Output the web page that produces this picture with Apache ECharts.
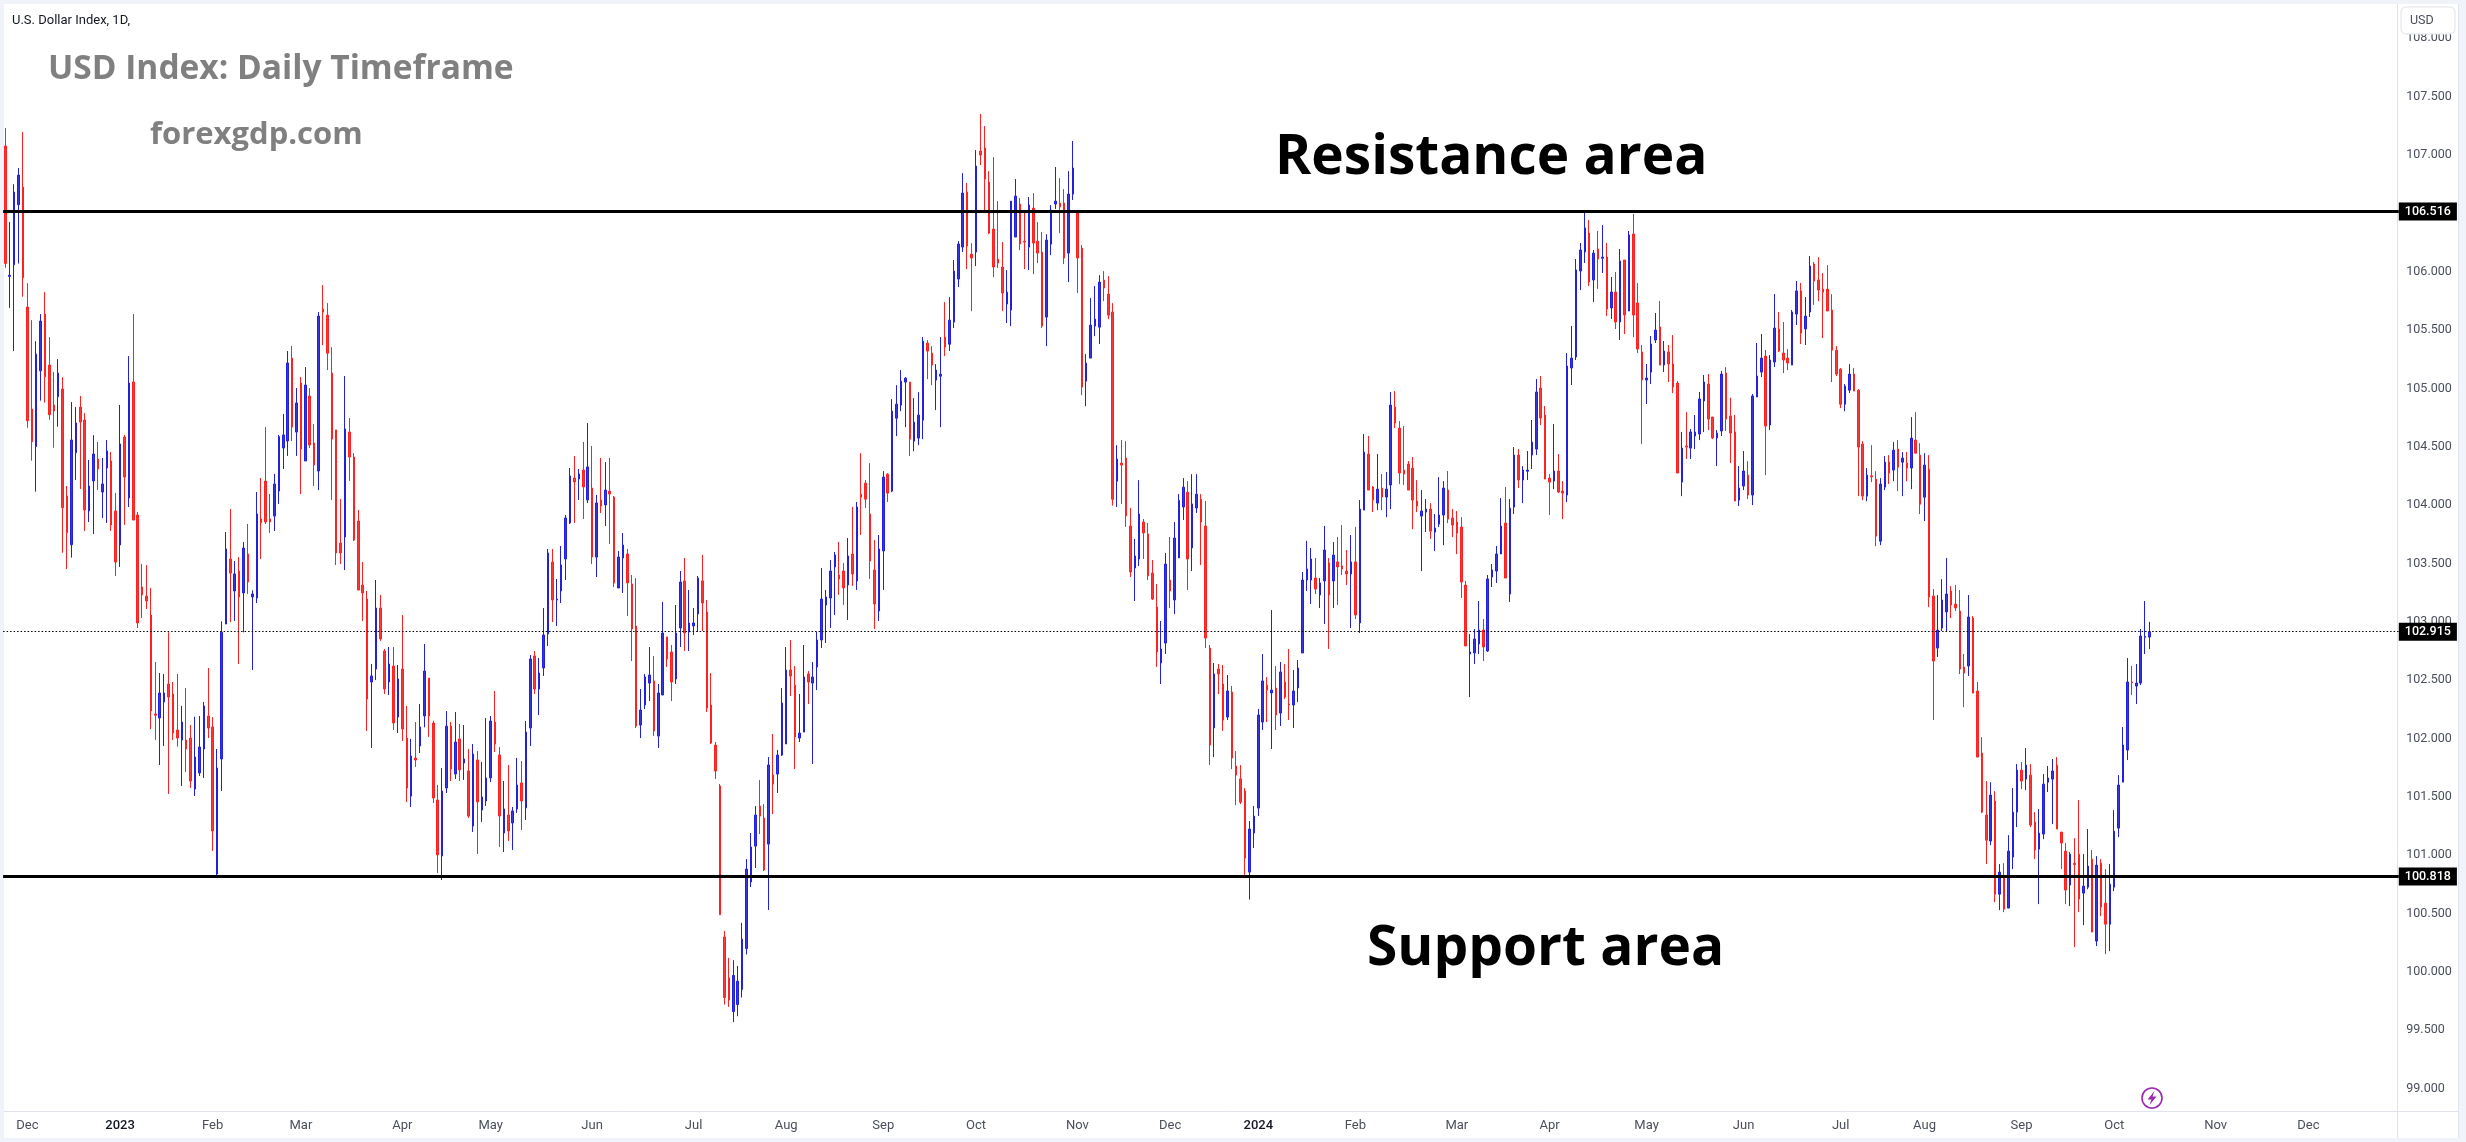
<!DOCTYPE html>
<html><head><meta charset="utf-8"><title>USD Index Daily</title>
<style>html,body{margin:0;padding:0;background:#f0f3fa}#c{width:2466px;height:1142px}</style>
<script src="https://cdn.jsdelivr.net/npm/echarts@6/dist/echarts.min.js"></script></head>
<body><div id="c"></div><script>
const chartTitle='USD Index: Daily Timeframe';
const siteName='forexgdp.com';
const symbolLine='U.S. Dollar Index, 1D,';
const currency='USD';
const resistanceLabel='Resistance area';
const supportLabel='Support area';
const resistanceLevel=106.516, supportLevel=100.818, lastPrice=102.915;
const priceTicks=[99,99.5,100,100.5,101,101.5,102,102.5,103,103.5,104,104.5,105,105.5,106,106.5,107,107.5,108];
const monthNames=['','Dec','2023','Feb','Mar','Apr','May','Jun','Jul','Aug','Sep','Oct','Nov','Dec','2024','Feb','Mar','Apr','May','Jun','Jul','Aug','Sep','Oct','Nov','Dec'];
const barsInMonth=[5,21,21,20,23,20,23,23,21,22,21,23,21,20,22,23,21,22,22,22,19,22,21,23,21,21];
// B = closed up, R = closed down
const direction=('RBBBRRRBBR'+'RRBRRBBRRB'+'BRBBRRBRBR'+'RRRRRBBRRR'+'BRRBBBRRBB'+'BRBRBRBBRR'+'RBBBBRBRBR'+'RBRRRRRBRR'+'RRRBBRRBRB'+'RRBRBBRRRB'
+'BRBRBRBRBB'+'BRRBRBBRBB'+'RBBBRBBBBR'+'BRBRBRBRRB'+'BRRRBBBRBB'+'RRBBRBBBRR'+'RRRRRBBBBB'+'BRRBRBBBRR'+'BBRBBBBBBR'+'RBRBRRRRBB'
+'RBBBBRBBBR'+'RBBRBBBBRR'+'BRRRRRRBBB'+'RRBRRRBBBR'+'RBBRRBBBBR'+'RRBRRRBBRR'+'RRBBRBBBRB'+'BRRRBRRBRR'+'RRBBBBRBRB'+'RRBBBBBRBB'
+'RBRRRBRBBR'+'RBRBBRRRRR'+'RBBRBBBRRR'+'RRBBBRBBBB'+'RBBRBBBBRR'+'RBRRBBBBBR'+'BRBRBRBRBR'+'RRBBBRBRRR'+'BRBBBBRRBB'+'RRRBBRBBBR'
+'BBRRRBBRBB'+'RRRRRRRBBR'+'RRBRRBBRBR'+'BRBRRBRRBB'+'BRRRRBRRRR'+'BRBRBBBRBR'+'RBBBBRRRBR'+'RBBRBRRBBB'+'BBRBBBB').split('');
const bodyHigh=[
107.077,105.97,106.682,106.828,106.725,105.697,104.823,105.294,105.577,105.637,
105.2,104.858,105.131,104.995,104.078,104.558,104.704,104.84,104.729,104.164,
104.438,104.395,104.181,104.464,104.378,103.95,104.524,104.584,105.046,105.055,
103.915,103.298,103.221,103.058,102.21,102.39,102.39,102.467,102.381,102.073,
102.141,101.987,102.004,101.841,101.927,102.279,102.193,102.099,101.747,102.91,
103.624,103.538,103.41,103.435,103.632,103.581,103.238,103.924,103.881,104.206,
103.881,104.181,104.586,104.601,105.218,105.26,104.875,105.046,105.029,104.935,
104.532,105.62,105.68,105.628,105.131,104.644,103.675,104.652,104.626,104.412,
103.864,103.315,103.195,102.536,103.118,103.118,102.75,102.638,102.621,102.51,
102.595,102.004,101.85,101.833,102.099,102.578,102.518,102.133,101.473,101.55,
102.106,102.106,101.97,101.996,101.824,101.722,101.867,101.816,101.499,101.662,
102.15,102.141,101.859,101.396,101.345,101.379,101.602,101.619,102.055,102.681,
102.707,102.561,102.887,103.59,103.512,103.195,103.487,103.89,104.25,104.232,
104.267,104.301,104.327,104.146,104.018,104.044,104.129,104.12,104.069,103.555,
103.658,103.581,103.324,102.964,102.244,102.527,102.544,102.493,102.39,102.904,
102.87,102.741,102.904,103.341,103.35,102.99,102.99,103.375,103.35,103.084,
102.287,101.944,101.593,100.3,99.95,99.97,99.92,100.28,100.881,101.07,
101.344,101.421,101.318,101.773,101.687,101.858,102.304,102.587,102.587,102.458,
102.047,102.527,102.553,102.527,102.844,103.195,103.213,103.435,103.573,103.401,
103.435,103.564,103.581,103.984,104.094,104.188,103.924,103.444,103.624,104.24,
104.265,104.805,104.865,105.062,105.088,105.054,104.711,104.771,105.405,105.388,
105.302,105.157,105.122,105.44,105.585,106.005,106.237,106.674,106.682,106.151,
106.905,107.034,107.06,106.768,106.365,106.108,106.04,105.825,106.605,106.648,
106.58,106.262,106.571,106.545,106.262,106.168,106.271,106.528,106.605,106.588,
106.588,106.665,106.888,106.511,106.202,105.217,105.542,105.594,105.911,105.928,
105.808,105.654,104.394,104.36,104.403,103.821,103.564,103.924,103.855,103.753,
103.418,103.127,102.767,103.495,103.358,103.718,104.04,104.154,104.111,104.01,
104.094,104.05,103.821,102.775,102.553,102.595,102.467,102.407,102.398,101.764,
101.653,101.55,101.224,101.335,102.201,102.493,102.458,102.415,102.432,102.57,
102.484,102.295,102.407,102.604,103.358,103.453,103.538,103.375,103.333,103.615,
103.504,103.572,103.513,103.478,103.435,103.513,103.513,103.966,104.454,104.437,
104.155,104.137,104.146,104.137,104.857,104.84,104.66,104.3,104.352,104.317,
104.035,103.949,103.966,103.966,103.803,103.915,104.146,104.129,103.889,103.855,
103.812,103.315,102.741,102.853,102.93,102.93,103.367,103.444,103.581,103.821,
103.846,103.974,104.429,104.429,104.3,104.3,104.54,104.969,105.003,104.772,
104.232,104.292,104.292,104.12,105.192,105.26,106.015,106.186,106.375,106.332,
106.16,106.195,106.125,106.126,105.826,105.826,106.092,106.1,106.315,106.323,
105.732,105.312,105.089,105.38,105.5,105.526,105.32,105.312,105.209,105.046,
104.489,104.506,104.626,104.626,104.909,105.055,105.037,104.755,104.617,105.123,
105.132,104.763,104.626,104.146,104.292,104.257,104.935,105.106,105.26,105.277,
105.243,105.517,105.509,105.303,105.26,105.655,105.835,105.835,105.62,106.049,
106.066,105.929,105.851,105.851,105.671,105.328,105.165,105.02,105.123,105.123,
104.985,104.523,104.257,104.251,104.223,104.18,104.368,104.368,104.471,104.48,
104.403,104.36,104.574,104.557,104.428,104.343,104.308,103.221,102.929,103.186,
103.238,103.264,103.152,103.092,102.612,103.041,103.032,102.406,101.875,101.344,
101.515,101.464,100.855,100.821,101.035,101.369,101.729,101.729,101.772,101.686,
101.284,101.189,101.609,101.661,101.721,101.772,101.198,101.035,101.009,100.93,
101.009,100.735,100.906,100.966,100.915,100.932,100.589,100.752,101.206,101.601,
101.944,102.484,102.484,102.475,102.878,102.875,102.915];
const bodyLow=[
106.071,105.96,106.06,106.574,105.948,104.723,104.543,104.501,105.151,105.099,
104.775,104.806,104.929,103.978,103.764,103.661,104.449,104.712,103.958,103.95,
104.207,104.31,104.112,104.318,103.83,103.512,103.658,104.241,104.061,103.872,
102.99,103.23,103.178,102.236,102.2,102.176,102.313,102.355,102.047,102.004,
101.987,101.91,101.636,101.567,101.705,101.91,102.09,101.207,100.839,101.824,
102.981,103.418,103.264,103.213,103.247,103.341,103.213,103.204,103.847,103.855,
103.855,103.906,104.121,104.489,104.549,104.669,104.626,104.481,104.378,104.515,
104.344,104.292,105.654,105.302,104.566,103.59,103.59,103.727,104.412,103.701,
103.272,103.247,102.338,102.484,102.595,102.853,102.424,102.484,102.133,102.184,
102.081,101.576,101.507,101.816,101.936,102.193,102.193,101.49,101.002,100.993,
101.576,101.739,101.696,101.73,101.79,101.336,101.25,101.456,101.387,101.465,
101.662,101.953,101.336,101.19,101.207,101.276,101.396,101.465,101.405,102.09,
102.424,102.424,102.604,102.896,103.187,103.187,103.264,103.538,103.847,104.198,
104.224,104.155,104.044,103.555,103.555,103.992,104.001,104.095,103.332,103.29,
103.547,103.333,102.938,102.107,102.115,102.287,102.475,102.064,102.021,102.373,
102.681,102.484,102.51,102.947,102.904,102.913,102.964,103.067,103.161,102.261,
101.961,101.721,100.49,99.78,99.76,99.66,99.72,99.85,100.2,100.77,
101.078,101.335,100.873,101.095,101.61,101.695,101.858,101.953,102.535,102.013,
102.004,102.055,102.484,102.475,102.613,102.844,103.144,103.204,103.47,103.367,
103.29,103.315,103.41,103.35,104.068,104.051,103.521,103.153,103.093,103.607,
104.103,104.12,104.745,104.857,105.054,104.565,104.548,104.574,104.728,105.32,
105.2,105.071,105.105,105.354,105.379,105.568,105.937,106.211,106.22,106.117,
106.168,107.0,106.794,106.331,106.04,106.074,105.817,105.723,105.671,106.297,
106.237,106.254,106.211,106.245,106.16,105.534,105.611,106.237,106.58,106.554,
106.117,106.16,106.665,106.117,105.011,105.062,105.26,105.534,105.525,105.86,
105.628,104.05,104.205,104.343,103.907,103.427,103.461,103.538,103.761,103.393,
103.195,102.741,102.647,102.818,103.264,103.187,103.547,103.984,103.538,103.633,
103.975,103.855,102.861,101.944,102.09,102.553,102.158,102.184,101.833,101.687,
101.455,100.975,100.855,101.19,101.404,102.141,102.415,102.39,102.201,102.218,
102.355,102.287,102.287,102.433,102.733,103.358,103.358,103.281,103.23,103.35,
103.23,103.35,103.47,103.453,103.41,103.41,103.058,102.99,103.957,104.129,
104.043,104.017,104.069,104.069,104.172,104.703,104.275,104.266,104.129,104.043,
103.992,103.906,103.94,103.777,103.769,103.837,103.915,103.88,103.829,103.76,
103.341,102.793,102.724,102.733,102.81,102.784,102.75,103.384,103.435,103.581,
103.375,103.238,103.983,104.215,104.215,104.29,104.429,104.48,104.746,104.223,
104.197,104.206,104.112,104.103,104.086,105.175,105.269,106.006,106.169,105.912,
105.929,106.109,106.115,105.68,105.689,105.569,105.569,105.629,105.663,105.629,
105.337,105.072,105.072,105.14,105.415,105.2,105.2,105.209,105.012,104.275,
104.197,104.497,104.489,104.592,104.609,104.892,104.737,104.575,104.575,104.635,
104.737,104.617,104.035,104.043,104.163,104.086,104.086,104.926,105.14,104.677,
104.686,105.226,105.32,105.243,105.217,105.2,105.637,105.475,105.509,105.655,
105.92,105.843,105.825,105.663,105.328,105.123,104.865,104.865,104.985,104.977,
104.497,104.077,104.077,104.243,103.734,103.691,104.154,104.274,104.3,104.325,
104.368,104.317,104.317,104.445,104.008,104.068,103.212,102.664,102.775,102.946,
103.084,103.144,103.118,102.595,102.561,102.621,102.389,101.841,101.369,101.129,
101.121,100.666,100.666,100.538,100.547,100.984,101.369,101.635,101.652,101.258,
101.044,101.052,101.181,101.626,101.652,101.224,101.104,100.701,100.744,100.92,
100.624,100.675,100.726,100.341,100.264,100.555,100.409,100.409,100.726,101.232,
101.626,101.901,102.478,102.449,102.475,102.867,102.869];
const wickHigh=[
107.231,106.425,106.75,106.888,107.197,105.902,105.585,105.405,105.637,105.825,
105.44,105.14,105.251,105.097,104.164,104.883,104.84,104.935,104.789,104.387,
104.6,104.541,104.404,104.558,104.455,104.104,104.858,104.601,105.277,105.637,
103.941,103.495,103.487,103.29,102.655,102.561,102.553,102.91,102.484,102.553,
102.279,102.433,102.116,102.187,102.193,102.313,102.604,102.184,101.91,103.004,
103.77,103.967,103.521,103.555,103.684,103.838,103.27,104.112,104.232,104.669,
104.095,104.267,104.601,104.781,105.32,105.363,105.003,105.098,105.183,105.003,
104.695,105.655,105.885,105.731,105.354,104.644,104.052,105.106,104.746,104.446,
103.958,103.512,103.264,102.638,103.358,103.23,102.767,102.784,102.784,102.63,
103.058,102.279,101.996,102.141,102.296,102.81,102.518,102.153,101.602,101.747,
102.235,102.141,102.227,102.124,102.116,101.91,101.953,101.893,101.799,102.176,
102.193,102.407,101.927,101.636,101.773,101.413,101.833,101.807,102.15,102.715,
102.75,102.69,103.118,103.624,103.624,103.367,103.65,103.915,104.318,104.421,
104.309,104.541,104.703,104.506,104.087,104.404,104.369,104.404,104.078,103.607,
103.761,103.624,103.401,103.375,102.424,102.553,102.784,102.707,102.467,103.17,
102.87,102.801,103.144,103.435,103.547,103.273,103.118,103.393,103.573,103.187,
102.561,101.97,101.61,100.35,100.12,100.1,100.05,100.42,100.967,101.19,
101.421,101.644,101.438,101.841,102.038,101.901,102.433,102.784,102.844,102.621,
102.381,102.801,102.578,102.655,102.913,103.461,103.273,103.53,103.598,103.684,
103.504,103.718,103.984,104.027,104.445,104.214,104.36,103.701,103.744,104.291,
104.273,104.908,105.028,105.157,105.097,105.054,104.917,104.968,105.44,105.414,
105.362,105.208,105.44,105.739,105.782,106.1,106.262,106.845,106.76,106.245,
107.042,107.351,107.248,106.862,106.982,106.605,106.254,106.014,106.605,106.794,
106.631,106.52,106.64,106.674,106.425,106.34,106.322,106.571,106.897,106.802,
106.708,106.862,107.12,106.511,106.228,105.294,105.774,105.877,105.971,106.005,
105.962,105.731,104.514,104.557,104.548,103.975,103.71,104.214,103.881,103.847,
103.53,103.324,103.007,103.59,103.727,103.855,104.094,104.231,104.205,104.265,
104.265,104.094,104.035,102.801,102.647,102.638,102.63,102.544,102.45,101.893,
101.773,101.575,101.293,101.421,102.253,102.724,102.527,103.101,102.621,102.655,
102.638,102.767,102.587,102.673,103.427,103.693,103.633,103.547,103.375,103.821,
103.547,103.684,103.727,103.83,103.615,103.744,103.813,104.043,104.609,104.592,
104.163,104.437,104.266,104.283,104.969,104.977,104.72,104.678,104.377,104.412,
104.214,104.129,104.052,104.017,103.923,104.24,104.206,104.292,103.966,103.949,
103.897,103.35,102.895,102.938,103.178,103.024,103.401,103.495,103.65,104.06,
104.155,104.052,104.497,104.48,104.334,104.463,104.729,105.08,105.106,104.849,
104.266,104.695,104.437,104.206,105.303,105.535,106.109,106.246,106.52,106.443,
106.186,106.349,106.4,106.246,105.955,105.997,106.195,106.1,106.349,106.495,
105.903,105.372,105.209,105.449,105.646,105.749,105.406,105.372,105.457,105.063,
104.626,104.797,104.652,104.772,104.969,105.115,105.123,104.755,104.643,105.149,
105.183,104.92,104.772,104.335,104.463,104.377,104.952,105.389,105.466,105.329,
105.286,105.809,105.655,105.569,105.337,105.672,105.92,105.903,105.783,106.135,
106.083,106.125,105.988,106.057,105.808,105.363,105.174,105.037,105.208,105.174,
104.994,104.548,104.317,104.514,104.291,104.231,104.42,104.428,104.54,104.557,
104.454,104.454,104.754,104.797,104.531,104.445,104.428,103.281,103.229,103.366,
103.546,103.306,103.315,103.272,102.724,103.229,103.049,102.484,102.012,101.635,
101.626,101.549,100.924,100.932,101.172,101.575,101.781,101.798,101.918,101.781,
101.369,101.395,101.695,101.764,101.824,101.841,101.198,101.104,101.026,101.146,
101.472,101.009,101.224,101.044,100.992,100.966,100.881,100.924,101.386,101.686,
102.098,102.689,102.621,102.638,102.938,103.178,103.0];
const wickLow=[
106.034,105.69,105.32,106.07,105.785,104.663,104.381,104.115,104.895,104.878,
104.732,104.492,104.672,103.592,103.452,103.55,104.215,104.138,103.778,103.855,
103.752,104.129,103.889,103.847,103.778,103.392,103.47,103.83,103.984,103.872,
102.947,103.033,103.11,102.081,101.987,101.773,101.936,101.525,101.987,101.93,
101.593,101.713,101.576,101.507,101.679,101.662,102.004,101.036,100.82,101.55,
102.981,102.998,103.007,102.638,102.91,103.238,102.587,103.161,103.538,103.838,
103.761,103.778,104.01,104.309,104.421,104.549,104.421,104.095,104.378,104.489,
104.164,104.129,105.371,105.157,104.044,103.487,103.495,103.444,104.207,103.692,
103.272,103.007,102.064,101.919,102.501,102.836,102.381,102.373,102.073,102.047,
101.979,101.456,101.413,101.756,101.876,102.096,102.013,101.447,100.847,100.787,
101.533,101.636,101.653,101.636,101.645,101.319,101.199,101.01,101.285,101.422,
101.627,101.884,101.07,101.027,101.122,101.045,101.362,101.216,101.302,101.936,
102.381,102.201,102.536,102.793,102.998,102.964,103.161,103.358,103.838,103.847,
104.044,103.881,104.018,103.495,103.384,103.932,103.821,103.667,103.298,103.29,
103.247,103.05,102.664,102.09,102.004,102.253,102.321,102.021,101.918,102.373,
102.613,102.321,102.467,102.784,102.75,102.75,102.887,102.913,102.921,102.227,
101.953,101.653,100.49,99.72,99.7,99.57,99.62,99.78,100.15,100.727,
100.89,101.181,100.864,100.53,101.353,101.533,101.85,101.953,102.364,101.738,
101.97,102.055,102.295,101.781,102.415,102.775,102.818,102.947,103.058,103.23,
103.144,103.015,103.307,103.273,103.744,103.975,103.367,102.938,103.007,103.273,
104.027,104.111,104.591,104.805,104.668,104.42,104.462,104.514,104.565,105.08,
105.028,104.814,104.668,105.277,105.32,105.517,105.868,106.168,106.022,105.662,
106.048,106.914,106.511,106.322,105.954,106.031,105.662,105.56,105.534,106.297,
106.185,106.022,106.014,105.979,106.074,105.517,105.362,106.142,106.537,106.331,
106.065,105.911,106.614,105.817,104.942,104.848,105.26,105.448,105.38,105.748,
105.594,103.995,103.984,104.01,103.813,103.384,103.178,103.478,103.538,103.358,
103.187,102.613,102.467,102.724,103.118,103.067,103.547,103.873,103.273,103.435,
103.933,103.487,102.775,101.773,101.841,102.381,102.064,102.158,101.738,101.43,
101.438,100.83,100.62,101.061,101.335,102.073,102.141,101.91,102.073,102.107,
102.338,102.158,102.09,102.313,102.733,103.264,103.153,103.238,103.118,102.981,
102.767,103.118,103.144,103.401,103.315,102.947,103.024,102.904,103.957,104.129,
103.94,103.957,103.957,103.897,103.966,104.66,104.18,104.172,104.129,103.794,
103.94,103.435,103.769,103.709,103.606,103.812,103.657,103.846,103.726,103.58,
103.204,102.793,102.355,102.638,102.724,102.664,102.741,103.298,103.333,103.581,
103.375,103.17,103.923,104.146,104.017,104.215,104.309,104.429,104.686,104.223,
103.915,104.137,104.103,103.88,104.026,105.029,105.243,105.843,106.075,105.877,
105.74,105.852,105.989,105.62,105.595,105.509,105.415,105.466,105.663,105.44,
105.303,104.523,104.866,105.037,105.389,105.2,105.14,105.055,104.96,104.275,
104.077,104.395,104.395,104.48,104.557,104.626,104.643,104.566,104.335,104.592,
104.635,104.36,104.035,103.992,104.129,104.052,104.0,104.926,105.097,104.257,
104.643,105.183,105.312,105.132,105.157,105.2,105.543,105.38,105.372,105.612,
105.715,105.748,105.431,105.663,105.054,105.105,104.831,104.805,104.96,104.977,
104.077,104.043,104.034,104.197,103.648,103.657,104.128,104.18,104.205,104.12,
104.077,104.205,104.137,104.445,103.923,103.863,103.126,102.158,102.698,102.921,
102.921,103.032,103.092,102.552,102.269,102.535,102.389,101.841,101.361,100.924,
101.086,100.598,100.529,100.512,100.547,100.881,101.241,101.566,101.558,101.241,
100.966,100.581,101.138,101.541,101.266,101.224,100.881,100.581,100.564,100.212,
100.512,100.401,100.709,100.341,100.221,100.478,100.152,100.178,100.692,101.155,
101.626,101.815,102.372,102.295,102.458,102.724,102.766];

const categories=[];
monthNames.forEach((m,k)=>{for(let j=0;j<barsInMonth[k];j++)categories.push(m+'|'+categories.length+'|'+j);});
const candles=direction.map((d,i)=>d==='B'
  ?[bodyLow[i],bodyHigh[i],wickLow[i],wickHigh[i]]
  :[bodyHigh[i],bodyLow[i],wickLow[i],wickHigh[i]]);

const FRAME='#e0e3eb', TXT='#4a4f5c', FONT='Roboto';
const chart=echarts.init(document.getElementById('c'),null,{renderer:'canvas'});
const bigText=(text,x,y,size,fill,weight)=>({type:'text',x,y,z:100,silent:true,style:{text,fill,font:`${weight} ${size}px "Open Sans"`,textAlign:'left',textVerticalAlign:'middle'}});
chart.setOption({
  animation:false,
  backgroundColor:'#f0f3fa',
  grid:{left:3.1,top:4,width:2395.7,height:1107,containLabel:false},
  xAxis:{type:'category',data:categories,boundaryGap:true,
    axisLine:{show:false},axisTick:{show:false},splitLine:{show:false},
    axisLabel:{interval:(idx,v)=>{const p=v.split('|');return p[0]!==''&&p[2]==='0';},
      formatter:v=>{const n=v.split('|')[0];return /^20/.test(n)?`{y|${n}}`:n;},
      margin:8,fontFamily:FONT,fontSize:13,color:TXT,hideOverlap:false,
      rich:{y:{fontFamily:FONT,fontSize:13,color:'#131722',fontWeight:500}}}},
  yAxis:{type:'value',position:'right',scale:true,min:98.808,max:108.294,
    axisLine:{show:false},axisTick:{show:false},splitLine:{show:false},
    axisLabel:{customValues:priceTicks,formatter:v=>Number(v).toFixed(3),margin:7.5,fontFamily:FONT,fontSize:12.5,color:TXT}},
  series:[{type:'candlestick',data:candles,barWidth:2,
    itemStyle:{color:'#3636dd',color0:'#ff3636',borderColor:'#2020dd',borderColor0:'#ff2020',borderWidth:1},
    markLine:{silent:true,symbol:'none',precision:3,animation:false,
      label:{position:'end',distance:0,formatter:p=>Number(p.value).toFixed(3),color:'#fff',backgroundColor:'#000',padding:[3,6,2,6],fontFamily:FONT,fontSize:12.5,fontWeight:500},
      data:[
        {yAxis:resistanceLevel,lineStyle:{color:'#000',width:3,type:'solid'}},
        {yAxis:supportLevel,lineStyle:{color:'#000',width:3,type:'solid'}},
        {yAxis:lastPrice,lineStyle:{color:'#000',width:1.2,type:[1.5,2]}}
      ]}}],
  graphic:{elements:[
    {type:'rect',z:-100,silent:true,shape:{x:4,y:4,width:2455,height:1134},style:{fill:'#fff'}},
    {type:'line',z:-50,silent:true,shape:{x1:2397.5,y1:4,x2:2397.5,y2:1138},style:{stroke:FRAME,lineWidth:1}},
    {type:'line',z:-50,silent:true,shape:{x1:4,y1:1111.5,x2:2459,y2:1111.5},style:{stroke:FRAME,lineWidth:1}},
    {type:'line',z:-50,silent:true,shape:{x1:2458.5,y1:4,x2:2458.5,y2:1138},style:{stroke:FRAME,lineWidth:1}},
    {type:'rect',z:100,silent:true,shape:{x:2401,y:7,width:54,height:27,r:5},style:{fill:'#fff',stroke:FRAME,lineWidth:1}},
    {type:'text',z:101,silent:true,x:2410,y:21,style:{text:currency,fill:TXT,font:`12.5px ${FONT}`,textVerticalAlign:'middle'}},
    {type:'text',z:100,silent:true,x:12,y:21,style:{text:symbolLine,fill:'#131722',font:`13px ${FONT}`,textVerticalAlign:'middle'}},
    bigText(chartTitle,48,69,33.5,'#808080',700),
    bigText(siteName,150,135,31,'#808080',700),
    bigText(resistanceLabel,1275,158,55,'#000',700),
    bigText(supportLabel,1367,949,55,'#000',700),
    {type:'circle',z:100,silent:true,shape:{cx:2152,cy:1098,r:10},style:{fill:'#fff',stroke:'#9c27b0',lineWidth:1.6}},
    {type:'polygon',z:101,silent:true,shape:{points:[[2154.5,1091],[2147.5,1099.5],[2151.5,1099.5],[2149.5,1105],[2156.5,1096.5],[2152.5,1096.5]]},style:{fill:'#9c27b0'}}
  ]}
});
</script></body></html>
